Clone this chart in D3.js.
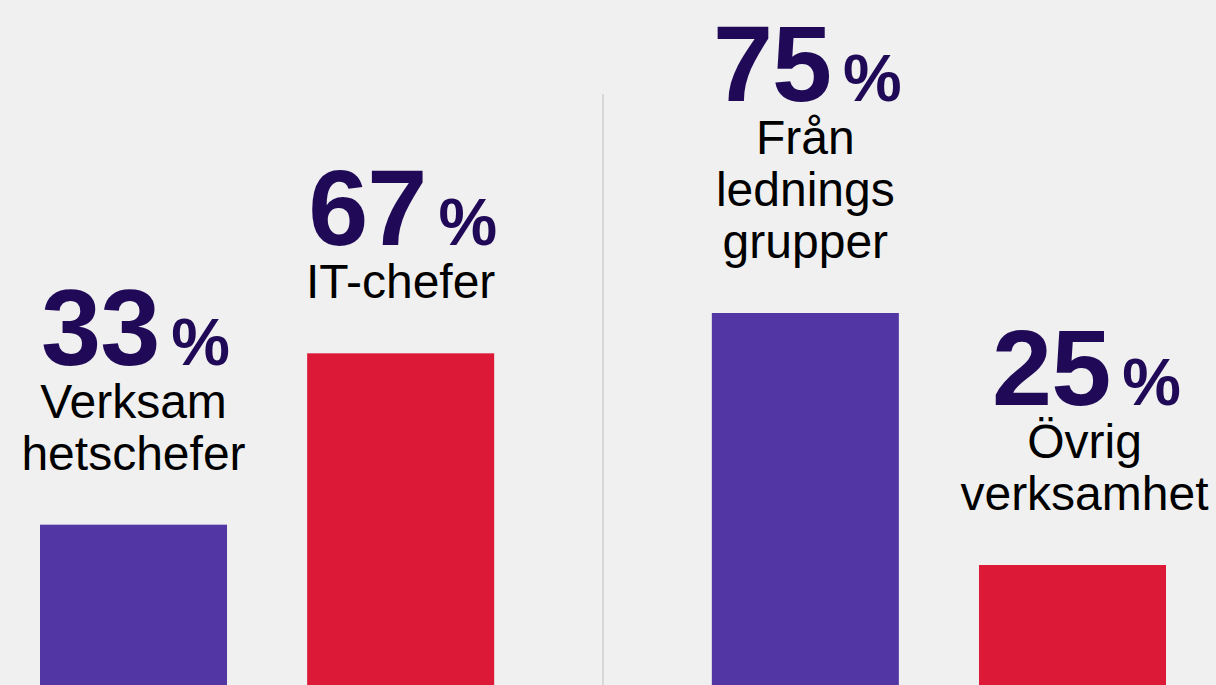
<!DOCTYPE html>
<html>
<head>
<meta charset="utf-8">
<script src="https://cdn.jsdelivr.net/npm/d3@7"></script>
<style>
  html, body { margin: 0; padding: 0; background: #f0f0f0; }
  svg { display: block; }
  text { font-family: "Liberation Sans", Arial, Helvetica, sans-serif; }
</style>
</head>
<body>
<svg id="chart" width="1216" height="685"></svg>
<script>
// ---- data ----
const groups = ["Verksamhet / IT", "Ledning / Övrig"];
const categories = ["Verksamhetschefer", "IT-chefer", "Från ledningsgrupper", "Övrig verksamhet"];
const values = [33, 67, 75, 25];
const groupOf = [0, 0, 1, 1];
const labelLines = [
  ["Verksam", "hetschefer"],
  ["IT-chefer"],
  ["Från", "lednings", "grupper"],
  ["Övrig", "verksamhet"]
];
const unit = "%";

// ---- layout / style ----
const W = 1216, H = 685;
const barColors = ["#5237a4", "#dc1937"];
const numberColor = "#200a57";
const labelShift = [0, 0, 0, 12]; // horizontal nudge of label blocks (px)
const svg = d3.select("#chart");

const xGroup = d3.scaleBand().domain(groups).range([40, 1166]).paddingInner(0.324).paddingOuter(0);
const xInner = d3.scaleBand().domain([0, 1]).range([0, xGroup.bandwidth()]).paddingInner(0.3).paddingOuter(0);
const y = d3.scaleLinear().domain([0, 100]).range([691, 187]);

const data = categories.map((c, i) => ({
  cat: c, value: values[i], group: groups[groupOf[i]], idx: i % 2, lines: labelLines[i], shift: labelShift[i]
}));

const bx = d => xGroup(d.group) + xInner(d.idx);

// divider
const divX = (xGroup(groups[0]) + xGroup.bandwidth() + xGroup(groups[1])) / 2;
svg.append("line")
  .attr("x1", divX).attr("x2", divX)
  .attr("y1", 94).attr("y2", H)
  .attr("stroke", "#cfcfcf").attr("stroke-width", 1.5);

// bars
svg.selectAll("rect.bar").data(data).join("rect")
  .attr("class", "bar")
  .attr("x", bx)
  .attr("width", xInner.bandwidth())
  .attr("y", d => y(d.value))
  .attr("height", d => y(0) - y(d.value))
  .attr("fill", d => barColors[d.idx]);

// labels
const lineH = 52, gapBar = 55, gapNum = 53;
data.forEach(d => {
  const cx = bx(d) + xInner.bandwidth() / 2 + d.shift;
  const lastBase = y(d.value) - gapBar;
  const n = d.lines.length;
  d.lines.forEach((ln, j) => {
    svg.append("text")
      .attr("x", cx)
      .attr("y", lastBase - (n - 1 - j) * lineH)
      .attr("text-anchor", "middle")
      .attr("font-size", 48)
      .attr("fill", "#000")
      .text(ln);
  });
  const numBase = lastBase - (n - 1) * lineH - gapNum;
  const t = svg.append("text")
    .attr("x", cx + 2)
    .attr("y", numBase)
    .attr("text-anchor", "middle")
    .attr("fill", numberColor)
    .attr("font-weight", "bold");
  t.append("tspan").attr("font-size", 108).attr("letter-spacing", -1).text(d.value);
  t.append("tspan").attr("font-size", 66).attr("dx", 12).text(unit);
});
</script>
</body>
</html>
